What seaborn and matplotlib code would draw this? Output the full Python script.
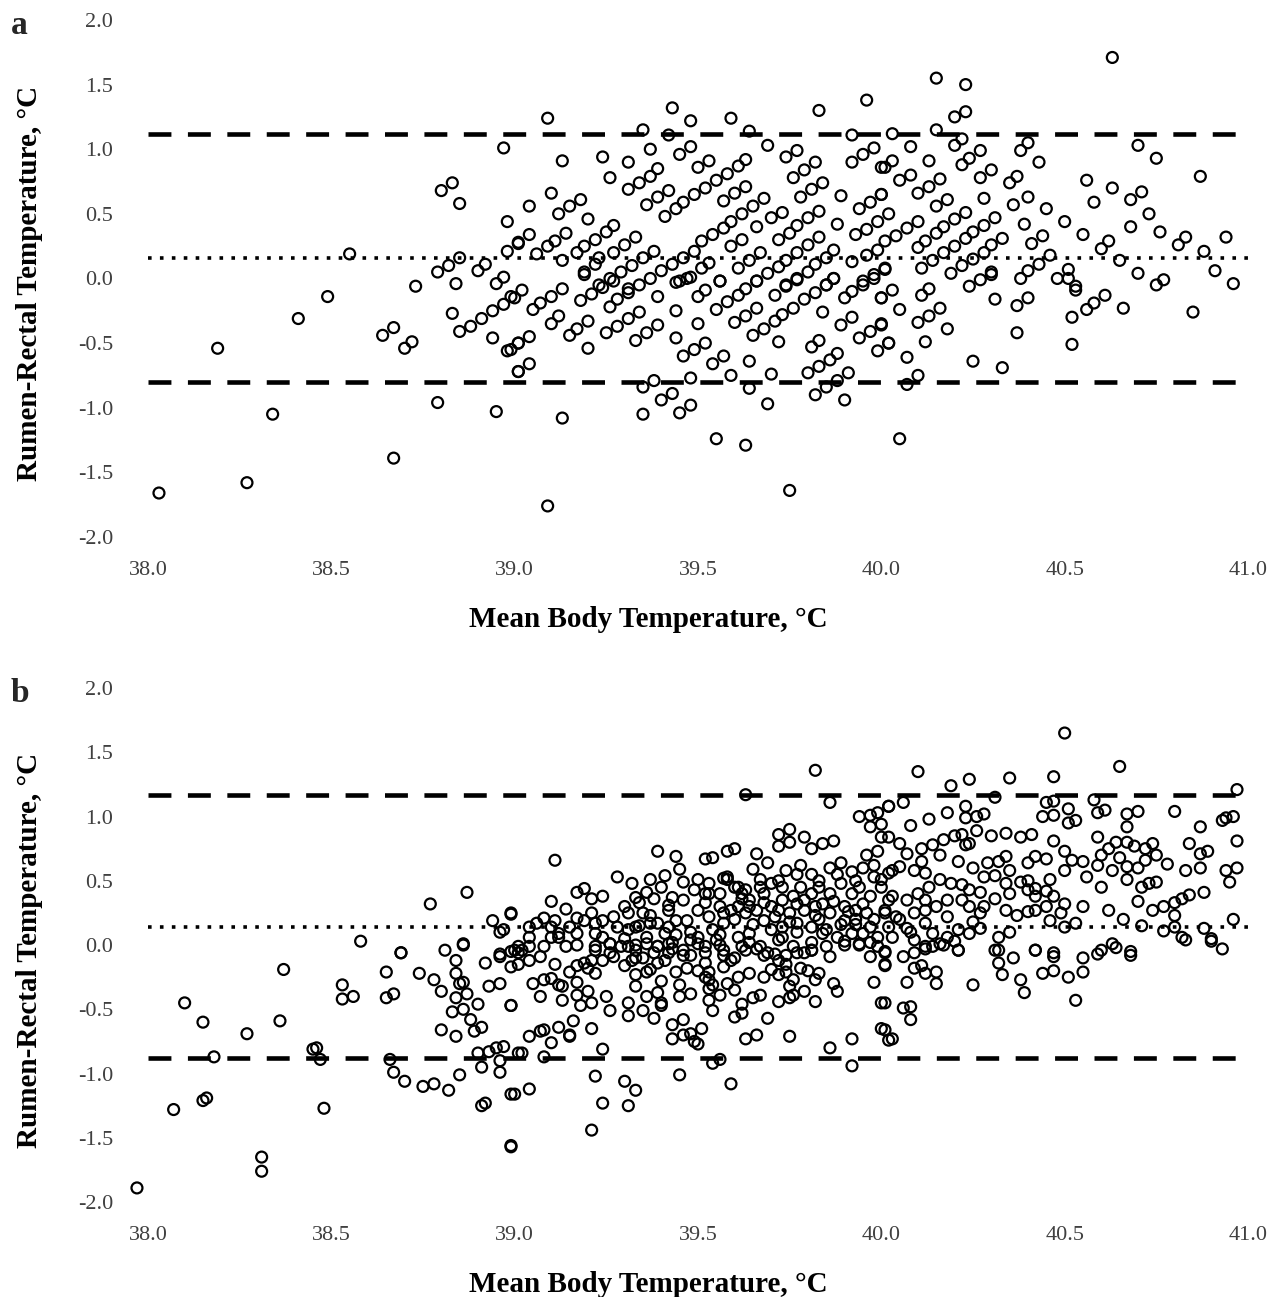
import matplotlib
matplotlib.use("Agg")
import matplotlib.pyplot as plt
import seaborn as sns
import pandas as pd
from matplotlib.ticker import FormatStrFormatter

sns.set_theme(style="white")
plt.rcParams["font.family"] = ["Liberation Serif", "DejaVu Serif"]
plt.rcParams["axes.unicode_minus"] = False

# ---- Panel a: mean body temperature vs rumen-rectal difference (°C) ----
a_mean = [
    38.03, 38.19, 38.27, 38.34, 38.41, 38.49, 38.55, 38.64, 38.67, 38.70, 38.72, 38.67, 38.73, 38.79,
    38.83, 38.84, 38.85, 38.88, 38.91, 38.94, 38.97, 39.00, 38.94, 38.98, 39.01, 39.01, 38.95, 38.97,
    38.80, 38.83, 38.85, 38.98, 39.01, 38.85, 38.82, 38.79, 38.92, 38.90, 38.98, 38.97, 38.95,
    39.09, 39.43, 39.48, 39.59, 39.35, 39.42, 39.64, 39.83, 39.96, 39.92, 39.69, 39.13, 39.24, 39.26,
    39.31, 39.37, 39.45, 39.48, 39.50, 39.53, 39.31, 39.34, 39.37, 39.39, 39.36, 39.39, 39.42, 39.41,
    39.44, 39.46, 39.49, 39.52, 39.55, 39.58, 39.61, 39.63, 39.57, 39.60, 39.63, 39.51, 39.54, 39.57,
    39.59, 39.62, 39.65, 39.68, 39.59, 39.62, 39.66, 39.70, 39.73, 39.72, 39.75, 39.77, 39.80, 39.83,
    39.74, 39.77, 39.76, 39.79, 39.82, 39.78, 39.81, 39.84, 39.89, 39.88, 39.92, 39.95, 39.98, 39.94,
    39.97, 40.00, 40.00, 39.01, 39.04, 39.04, 39.10, 39.12, 39.15, 39.18, 39.20, 39.06, 39.09, 39.11,
    39.14, 39.13, 39.17, 39.19, 39.22, 39.25, 39.27, 39.19, 39.22, 39.23, 39.27, 39.30, 39.33, 39.23,
    39.26, 39.29, 39.32, 39.35, 39.38, 39.31, 39.40, 39.43, 39.46, 39.49, 39.45, 39.48, 39.51, 39.53,
    39.56, 39.61, 39.64, 39.67, 39.66, 39.69, 39.72, 39.74, 39.77, 39.80, 39.83, 39.74, 39.77, 39.80,
    39.82, 39.85, 39.87, 39.85, 39.87, 39.92, 39.96, 39.99, 39.93, 39.96, 39.99, 40.02, 39.95, 39.98,
    40.01,
    39.02, 38.99, 39.05, 39.07, 39.10, 39.13, 38.99, 39.01, 39.04, 39.01, 39.04, 39.10, 39.12, 39.15,
    39.17, 39.20, 39.20, 39.18, 39.21, 39.24, 39.27, 39.19, 39.26, 39.28, 39.31, 39.34, 39.37, 39.25,
    39.28, 39.31, 39.34, 39.33, 39.36, 39.39, 39.39, 39.44, 39.47, 39.44, 39.44, 39.50, 39.46, 39.49,
    39.52, 39.50, 39.52, 39.56, 39.55, 39.58, 39.61, 39.63, 39.66, 39.60, 39.63, 39.66, 39.54, 39.57,
    39.59, 39.64, 39.64, 39.35, 39.38, 39.40, 39.43, 39.35, 39.45, 39.48, 39.48, 39.13, 39.09, 39.55,
    39.63, 39.75, 39.69, 39.70, 39.65, 39.68, 39.71, 39.73, 39.76, 39.79, 39.82, 39.85, 39.87, 39.71,
    39.74, 39.77, 39.72, 39.81, 39.83, 39.80, 39.83, 39.86, 39.88, 39.82, 39.85, 39.88, 39.91, 39.90,
    39.84, 39.89, 39.92, 39.90, 39.92, 39.95, 39.98, 39.94, 39.97, 40.00, 39.99, 40.02, 40.00,
    40.63, 40.15, 40.23, 40.20, 40.23, 40.03, 40.15, 40.20, 40.22, 40.08, 40.01, 40.03, 40.13, 40.22,
    40.24, 40.27, 40.05, 40.08, 40.10, 40.13, 40.16, 40.27, 40.30, 40.38, 40.40, 40.43, 40.35, 40.37,
    40.00, 40.15, 40.18, 40.28, 40.36, 40.40, 40.70, 40.75, 40.87, 40.56, 40.63, 40.58, 40.68, 40.71,
    40.73, 40.45, 40.50, 40.39, 40.01, 40.04, 40.07, 40.10, 40.23, 40.20, 40.17, 40.15, 40.12, 40.10,
    40.31, 40.28, 40.25, 40.23, 40.20, 40.17, 40.14, 40.11, 40.33, 40.30, 40.28, 40.25, 40.22, 40.19,
    40.30, 40.27, 40.24, 40.01, 40.68, 40.76, 40.55, 40.44, 40.41, 40.46, 40.43, 40.40, 40.38, 40.51,
    40.48, 40.60, 40.62, 40.65, 40.70, 40.81, 40.83, 40.88, 40.94, 40.91, 40.96, 40.75, 40.77, 40.53,
    40.03, 40.00, 40.05, 40.00, 40.02, 40.07, 40.10, 40.07, 40.05, 40.11, 40.13, 40.10, 40.13, 40.16,
    40.18, 40.12, 40.30, 40.31, 40.25, 40.33, 40.37, 40.40, 40.37, 40.52, 40.56, 40.58, 40.61, 40.52,
    40.66, 40.85, 40.53, 40.51,
]
a_diff = [
    -1.66, -0.54, -1.58, -1.05, -0.31, -0.14, 0.19, -0.44, -0.38, -0.54, -0.49, -1.39, -0.06, -0.96,
    -0.27, -0.04, -0.41, -0.37, -0.31, -0.25, -0.20, -0.15, -0.46, -0.56, -0.50, -0.72, -1.03, 1.01,
    0.68, 0.74, 0.58, 0.44, 0.27, 0.16, 0.10, 0.05, 0.11, 0.06, 0.21, 0.01, -0.04,
    1.24, 1.32, 1.22, 1.24, 1.15, 1.11, 1.14, 1.30, 1.38, 1.11, 1.03, 0.91, 0.94, 0.78,
    0.90, 1.00, 0.96, 1.02, 0.86, 0.91, 0.69, 0.74, 0.79, 0.85, 0.57, 0.63, 0.68, 0.48,
    0.54, 0.59, 0.65, 0.70, 0.76, 0.81, 0.87, 0.92, 0.60, 0.66, 0.71, 0.29, 0.34, 0.39,
    0.44, 0.50, 0.56, 0.62, 0.25, 0.30, 0.40, 0.47, 0.51, 0.30, 0.35, 0.41, 0.47, 0.52,
    0.94, 0.99, 0.78, 0.84, 0.90, 0.63, 0.69, 0.74, 0.64, 0.42, 0.90, 0.96, 1.01, 0.54,
    0.59, 0.65, 0.86, 0.28, 0.34, 0.56, 0.66, 0.50, 0.56, 0.61, 0.46, 0.19, 0.25, 0.29,
    0.35, 0.14, 0.20, 0.25, 0.30, 0.36, 0.41, 0.05, 0.11, 0.16, 0.20, 0.26, 0.32, -0.05,
    0.00, 0.05, 0.10, 0.16, 0.21, -0.08, 0.06, 0.11, 0.16, 0.21, -0.02, 0.01, 0.08, 0.12,
    -0.02, 0.08, 0.14, 0.20, -0.02, 0.04, 0.09, 0.14, 0.20, 0.26, 0.32, -0.05, 0.00, 0.05,
    0.11, 0.16, 0.22, -0.05, 0.00, 0.13, 0.18, 0.22, 0.34, 0.38, 0.44, 0.50, -0.02, 0.03,
    0.08,
    -0.09, -0.14, -0.24, -0.19, -0.14, -0.08, -0.55, -0.50, -0.45, -0.72, -0.66, -0.35, -0.29, -0.44,
    -0.39, -0.33, -0.54, -0.17, -0.12, -0.07, -0.02, 0.03, -0.22, -0.16, -0.11, -0.05, 0.00, -0.42,
    -0.37, -0.31, -0.26, -0.48, -0.42, -0.36, -0.14, -0.03, 0.00, -0.25, -0.46, -0.35, -0.60, -0.55,
    -0.50, -0.14, -0.09, -0.02, -0.24, -0.18, -0.13, -0.08, -0.02, -0.34, -0.29, -0.23, -0.66, -0.60,
    -0.75, -0.85, -0.64, -0.84, -0.79, -0.94, -0.89, -1.05, -1.04, -0.98, -0.77, -1.08, -1.76, -1.24,
    -1.29, -1.64, -0.97, -0.74, -0.44, -0.39, -0.33, -0.28, -0.23, -0.16, -0.11, -0.05, 0.00, -0.13,
    -0.06, -0.01, -0.49, -0.53, -0.48, -0.73, -0.68, -0.63, -0.58, -0.90, -0.84, -0.79, -0.73, -0.94,
    -0.26, -0.36, -0.30, -0.15, -0.10, -0.05, 0.00, -0.46, -0.41, -0.36, -0.56, -0.50, -0.15,
    1.71, 1.55, 1.50, 1.25, 1.29, 1.12, 1.15, 1.03, 1.08, 1.02, 0.86, 0.91, 0.91, 0.88,
    0.93, 0.99, 0.76, 0.80, 0.66, 0.71, 0.77, 0.78, 0.84, 0.99, 1.05, 0.90, 0.74, 0.79,
    0.65, 0.56, 0.61, 0.62, 0.57, 0.63, 1.03, 0.93, 0.79, 0.76, 0.70, 0.59, 0.61, 0.67,
    0.50, 0.54, 0.44, 0.42, 0.29, 0.33, 0.39, 0.44, 0.51, 0.46, 0.40, 0.35, 0.29, 0.24,
    0.47, 0.41, 0.36, 0.31, 0.25, 0.20, 0.14, 0.08, 0.31, 0.26, 0.20, 0.15, 0.10, 0.04,
    0.05, -0.01, -0.06, 0.07, 0.40, 0.36, 0.34, 0.33, 0.27, 0.18, 0.11, 0.06, 0.00, 0.07,
    0.00, 0.23, 0.29, 0.14, 0.04, 0.26, 0.32, 0.21, 0.32, 0.06, -0.04, -0.05, -0.01, -0.06,
    -0.09, -0.15, -0.24, -0.35, -0.50, -0.61, -0.75, -0.82, -1.24, -0.13, -0.08, -0.34, -0.29, -0.23,
    -0.39, -0.49, 0.03, -0.16, -0.64, -0.69, -0.21, -0.15, -0.42, -0.30, -0.24, -0.19, -0.13, -0.51,
    -0.23, -0.26, -0.09, 0.00,
]
a_bias, a_upper, a_lower = 0.16, 1.12, -0.80

# ---- Panel b ----
b_mean = [
    38.87, 38.77, 38.99, 38.94, 38.96, 38.97, 38.58, 38.86, 38.81, 38.69, 38.96, 39.00,
    37.97, 38.10, 38.15, 38.07, 38.15, 38.16, 38.18, 38.27, 38.31, 38.31, 38.36, 38.37, 38.45, 38.46,
    38.47, 38.48, 38.53, 38.53, 38.56, 38.65, 38.65, 38.67, 38.69, 38.66, 38.67, 38.70, 38.74, 38.75,
    38.78, 38.78, 38.80, 38.80, 38.82, 38.84, 38.84, 38.85, 38.86, 38.84, 38.87, 38.83, 38.86, 38.90,
    38.88, 38.89, 38.91, 38.84, 38.86, 38.92, 38.96, 38.93, 38.96, 38.99, 38.90, 38.93, 38.95, 38.97,
    38.96, 38.85, 38.91, 38.96, 38.99, 38.91, 38.92, 38.99, 38.99, 39.01, 39.01,
    38.99, 39.00, 39.04, 39.02, 39.08, 39.21, 39.22, 39.24, 39.24, 39.30, 39.33, 39.31, 39.45, 39.54,
    39.56, 39.59, 39.86, 39.92, 39.92, 39.75, 39.63, 39.66, 39.69, 39.60, 39.62, 39.50, 39.49, 39.43,
    39.43, 39.46, 39.46, 39.48, 39.51, 39.04, 39.07, 39.08, 39.10, 39.12, 39.15, 39.15, 39.16, 39.21,
    38.99, 39.07, 39.05, 39.13, 39.17, 39.18, 39.21, 39.20, 39.25, 39.26, 39.31, 39.31, 39.36, 39.35,
    39.38, 39.39, 39.40, 39.40, 39.33, 39.33, 39.11, 39.15, 39.17, 39.20, 39.22, 39.08, 39.10, 39.12,
    39.13, 39.04, 39.07, 38.99, 39.01, 39.04, 39.22, 39.24, 39.27, 39.26, 39.17, 39.19, 39.21, 39.30,
    39.32, 39.35, 39.36, 39.37, 39.39, 39.41, 39.44, 39.45, 39.48, 39.47, 39.31, 39.33, 39.36, 39.39,
    39.42, 39.43, 39.46, 39.48, 39.52, 39.52, 39.53, 39.54, 39.53, 39.56, 39.54, 39.53, 39.53, 39.57,
    39.59, 39.57, 39.56, 39.61, 39.60, 39.62, 39.64, 39.66, 39.65, 39.67, 39.72, 39.75, 39.76, 39.79,
    39.82, 39.82, 39.83, 39.87, 39.88, 39.86, 39.68, 39.71, 39.72, 39.74, 39.77, 39.79, 39.81, 39.70,
    39.72, 39.74, 39.76, 39.78, 39.75, 39.90, 39.94, 39.97, 39.98, 40.01, 40.01, 40.00, 40.00, 40.02,
    40.01, 40.01, 40.06, 40.09, 40.11, 40.09, 40.12, 40.15, 40.15, 40.07, 40.01, 40.06, 40.08, 40.08,
    40.01, 40.03, 40.12, 40.14, 40.17, 40.21, 40.20, 40.25, 40.31, 40.32, 40.33, 40.36, 40.38, 40.39,
    40.42, 40.44, 40.47, 40.47, 40.51, 40.55, 40.55, 40.53, 40.59, 40.64, 40.68, 40.83, 40.90, 40.93,
    39.82, 39.63, 39.86, 39.11, 39.39, 39.44, 39.52, 39.54, 39.58, 39.60, 39.66, 39.69, 39.72, 39.75,
    39.72, 39.75, 39.79, 39.81, 39.84, 39.87, 39.94, 39.97, 39.99, 39.97, 40.00, 40.02, 40.00, 39.96,
    39.99, 40.02, 39.28, 39.32, 39.33, 39.36, 39.37, 39.41, 39.40, 39.45, 39.46, 39.43, 39.17, 39.19,
    39.21, 39.24, 39.10, 39.14, 38.99, 39.08, 39.17, 39.21, 39.27, 39.37, 39.42, 39.49, 39.52, 39.58,
    39.61, 39.65, 39.67, 39.62, 39.74, 39.78, 39.81, 39.86, 39.89, 39.92, 39.95, 39.98,
    39.04, 39.10, 39.12, 39.10, 39.14, 39.17, 39.22, 39.22, 39.26, 39.30, 39.31, 39.34, 39.37, 39.41,
    39.44, 39.48, 39.50, 39.54, 39.57, 39.59, 39.63, 39.65, 39.68, 39.72, 39.75, 39.79, 39.82, 39.86,
    39.90, 39.93, 39.97, 40.01, 40.02, 39.94, 39.99, 39.90, 39.85, 39.81, 39.76, 39.72, 39.67, 39.63,
    39.57, 39.52, 39.46, 39.39, 39.33, 39.26, 39.02, 39.01,
    39.50, 39.53, 39.56, 39.60, 39.63, 39.64, 39.68, 39.70, 39.73, 39.76, 39.78, 39.81, 39.83, 39.86,
    39.89, 39.92, 39.94, 39.97, 40.00, 39.90, 39.93, 39.96, 39.84, 39.82, 39.77, 39.73, 39.70, 39.66,
    39.61, 39.57, 39.53, 39.50, 39.47, 39.44, 39.42, 39.39, 39.35, 39.33, 39.31, 39.28, 39.24, 39.22,
    39.19, 39.15, 39.11, 39.06, 39.04, 39.08, 39.12, 39.17, 39.24, 39.29, 39.36, 39.42, 39.50, 39.55,
    39.61, 39.64, 39.70, 39.73, 39.77, 39.81, 39.84, 39.88, 39.92, 39.95, 39.99, 40.02, 39.57, 39.58,
    39.53,
    40.50, 40.65, 40.10, 40.19, 40.24, 40.35, 40.47, 40.31, 40.97, 40.02, 40.06, 40.23, 40.23, 40.26,
    40.28, 40.18, 40.13, 40.08, 40.26, 40.30, 40.34, 40.45, 40.47, 40.44, 40.47, 40.51, 40.51, 40.53,
    40.58, 40.59, 40.61, 40.67, 40.70, 40.67, 40.80, 40.87, 40.93, 40.94, 40.96, 40.97, 40.38, 40.41,
    40.47, 40.50, 40.52, 40.59, 40.62, 40.64, 40.67, 40.69, 40.72, 40.74, 40.75, 40.72, 40.78, 40.84,
    40.87, 40.89, 40.83, 40.87, 40.94, 40.97, 40.95, 40.88, 40.84, 40.82, 40.80, 40.77, 40.74, 40.70,
    40.71, 40.73, 40.75, 40.62, 40.66, 40.80, 40.80, 40.77, 40.82, 40.71, 40.88, 40.90, 40.96, 40.60,
    40.59, 40.56, 40.63, 40.67, 40.67, 40.55, 40.49, 40.46, 40.50, 40.53, 40.42, 40.47, 40.63, 40.60,
    40.68,
    40.05, 40.07, 40.11, 40.11, 40.14, 40.17, 40.20, 40.22, 40.23, 40.24, 40.16, 40.21, 40.25, 40.29,
    40.32, 40.34, 40.35, 40.34, 40.31, 40.28, 40.40, 40.42, 40.45, 40.46, 40.42, 40.40, 40.38, 40.42,
    40.03, 40.02, 40.00, 40.05, 40.09, 40.12, 40.16, 40.19, 40.22, 40.24, 40.27, 40.13, 40.10, 40.07,
    40.03, 40.01, 40.04, 40.09, 40.12, 40.15, 40.18, 40.22, 40.24, 40.27, 40.31, 40.34, 40.37, 40.40,
    40.42, 40.45, 40.47, 40.50, 40.12, 40.14, 40.18, 40.21, 40.24, 40.27, 40.32, 40.35, 40.03, 40.07,
    40.09, 40.12, 40.16, 40.21, 40.32,
    39.30, 39.34, 39.38, 39.42, 39.46, 39.52, 39.56, 39.60, 39.64, 39.68, 39.71, 39.75, 39.79, 39.83,
    39.87, 39.91, 39.95, 39.98, 39.33, 39.38, 39.43, 39.48, 39.52, 39.56, 39.60, 39.64, 39.69, 39.73,
    39.77, 39.81, 39.85, 39.89, 39.93, 39.97, 39.62, 39.67, 39.72, 39.77, 39.83, 39.88, 39.93, 39.98,
    39.40, 39.45, 39.50, 39.58, 39.62, 39.68, 39.74, 39.80, 40.05, 40.08, 40.12, 40.18, 40.25, 40.28,
    40.35, 40.40, 40.45, 40.50, 40.55, 40.60, 40.65, 40.70,
]
b_diff = [
    0.41, 0.32, 0.24, 0.19, 0.10, 0.12, 0.03, 0.01, -0.04, -0.06, -0.07, -0.04,
    -1.89, -0.45, -0.60, -1.28, -1.21, -1.19, -0.87, -0.69, -1.65, -1.76, -0.59, -0.19, -0.81, -0.80,
    -0.89, -1.27, -0.31, -0.42, -0.40, -0.21, -0.41, -0.38, -0.06, -0.89, -0.99, -1.06, -0.22, -1.10,
    -1.08, -0.27, -0.36, -0.66, -1.13, -0.12, -0.22, -0.30, -0.29, -0.41, -0.38, -0.52, -0.50, -0.46,
    -0.58, -0.67, -0.64, -0.71, -0.00, -0.14, -0.09, -0.32, -0.30, -0.47, -0.84, -0.83, -0.80, -0.79,
    -0.90, -1.01, -0.95, -0.99, -1.16, -1.25, -1.23, -1.57, -0.05, -0.15, -0.84,
    -1.56, -1.16, -1.12, -0.84, -0.87, -1.44, -1.02, -1.23, -0.81, -1.06, -1.13, -1.25, -1.01, -0.92,
    -0.89, -1.08, -0.80, -0.73, -0.94, -0.71, -0.73, -0.70, -0.57, -0.56, -0.53, -0.77, -0.75, -0.62,
    -0.73, -0.58, -0.70, -0.69, -0.65, -0.71, -0.67, -0.66, -0.76, -0.64, -0.71, -0.70, -0.59, -0.65,
    -0.47, -0.40, -0.30, -0.43, -0.39, -0.47, -0.45, -0.36, -0.40, -0.51, -0.45, -0.55, -0.40, -0.51,
    -0.57, -0.37, -0.45, -0.47, -0.32, -0.23, -0.15, -0.21, -0.29, -0.18, -0.22, -0.27, -0.26, -0.31,
    -0.32, -0.12, -0.09, -0.17, -0.06, -0.01, -0.04, -0.12, -0.09, 0.01, -0.16, -0.14, -0.12, -0.16,
    -0.12, -0.10, -0.21, -0.19, -0.14, -0.12, -0.21, -0.31, -0.38, -0.18, -0.01, 0.00, 0.01, -0.01,
    -0.06, -0.03, -0.08, -0.08, -0.14, -0.25, -0.21, -0.31, -0.43, -0.39, -0.51, -0.34, -0.27, -0.17,
    -0.12, -0.08, -0.00, -0.25, -0.35, -0.01, -0.22, -0.03, -0.41, -0.39, -0.44, -0.41, -0.39, -0.36,
    -0.44, -0.27, -0.22, -0.30, -0.36, -0.09, -0.08, -0.07, -0.12, -0.08, -0.06, -0.06, -0.04, -0.19,
    -0.23, -0.21, -0.27, -0.18, -0.32, 0.03, 0.00, -0.09, -0.29, -0.06, -0.15, -0.45, -0.65, -0.74,
    -0.05, -0.16, -0.09, -0.06, -0.16, -0.18, -0.22, -0.21, -0.30, -0.29, -0.45, -0.49, -0.48, -0.58,
    -0.66, -0.73, -0.03, -0.01, 0.00, -0.04, 0.03, -0.31, -0.04, -0.14, -0.23, -0.10, -0.27, -0.37,
    -0.04, -0.22, -0.20, -0.09, -0.25, -0.10, -0.21, -0.43, -0.07, -0.02, -0.08, 0.04, 0.03, -0.03,
    1.36, 1.17, 1.11, 0.66, 0.73, 0.69, 0.67, 0.68, 0.73, 0.75, 0.71, 0.64, 0.86, 0.90,
    0.77, 0.80, 0.84, 0.75, 0.79, 0.81, 1.00, 1.01, 1.03, 0.92, 0.94, 1.08, 0.84, 0.70,
    0.73, 0.84, 0.53, 0.48, 0.37, 0.41, 0.51, 0.54, 0.45, 0.59, 0.49, 0.37, 0.41, 0.44,
    0.36, 0.38, 0.34, 0.28, 0.25, 0.21, 0.21, 0.25, 0.22, 0.23, 0.27, 0.43, 0.40, 0.53,
    0.45, 0.59, 0.51, 0.36, 0.58, 0.62, 0.55, 0.60, 0.64, 0.57, 0.60, 0.53,
    0.14, 0.14, 0.06, 0.06, -0.01, 0.00, 0.09, -0.01, 0.01, 0.05, 0.12, 0.15, 0.17, 0.09,
    0.08, 0.04, 0.06, 0.12, 0.17, 0.27, 0.25, 0.16, 0.19, 0.27, 0.25, 0.27, 0.23, 0.25,
    0.19, 0.16, 0.14, 0.25, 0.35, 0.01, -0.01, 0.00, -0.01, -0.04, -0.01, 0.04, -0.01, -0.04,
    -0.04, -0.01, -0.04, -0.01, -0.04, -0.06, -0.04, -0.01,
    0.51, 0.48, 0.40, 0.45, 0.43, 0.35, 0.40, 0.48, 0.45, 0.38, 0.45, 0.40, 0.45, 0.40,
    0.48, 0.40, 0.45, 0.38, 0.45, 0.30, 0.27, 0.25, 0.32, 0.30, 0.32, 0.35, 0.30, 0.27,
    0.30, 0.25, 0.22, 0.27, 0.19, 0.19, 0.14, 0.17, 0.25, 0.14, 0.25, 0.14, 0.19, 0.17,
    0.19, 0.14, 0.19, 0.17, 0.06, -0.01, 0.09, 0.09, 0.06, -0.01, 0.06, 0.01, 0.01, 0.04,
    0.06, 0.09, 0.12, 0.14, 0.17, 0.14, 0.09, 0.06, 0.09, 0.09, 0.06, 0.14, 0.52, 0.51,
    0.40,
    1.65, 1.39, 1.35, 1.24, 1.29, 1.30, 1.31, 1.15, 1.21, 1.08, 1.11, 1.08, 0.99, 1.00,
    1.02, 1.03, 0.98, 0.93, 0.89, 0.85, 0.87, 1.11, 1.12, 1.00, 1.01, 1.06, 0.95, 0.97,
    1.13, 1.03, 1.05, 1.02, 1.04, 0.92, 1.04, 0.92, 0.97, 0.99, 1.00, 0.81, 0.84, 0.86,
    0.81, 0.73, 0.66, 0.84, 0.75, 0.80, 0.80, 0.77, 0.75, 0.79, 0.70, 0.66, 0.63, 0.79,
    0.71, 0.73, 0.58, 0.60, 0.58, 0.60, 0.49, 0.41, 0.39, 0.36, 0.33, 0.30, 0.27, 0.34,
    0.45, 0.48, 0.49, 0.27, 0.20, 0.23, 0.14, 0.11, 0.06, 0.15, 0.13, 0.05, 0.20, 0.45,
    0.62, 0.53, 0.58, 0.61, 0.51, 0.30, 0.25, 0.19, 0.14, 0.17, -0.04, -0.06, 0.01, -0.04,
    -0.05,
    0.79, 0.71, 0.75, 0.65, 0.78, 0.82, 0.85, 0.86, 0.78, 0.79, 0.70, 0.65, 0.60, 0.64,
    0.65, 0.69, 0.58, 0.48, 0.54, 0.53, 0.64, 0.69, 0.67, 0.51, 0.44, 0.43, 0.49, 0.38,
    0.58, 0.56, 0.51, 0.61, 0.58, 0.56, 0.51, 0.48, 0.47, 0.43, 0.41, 0.45, 0.40, 0.35,
    0.38, 0.27, 0.22, 0.25, 0.27, 0.30, 0.35, 0.35, 0.30, 0.25, 0.36, 0.27, 0.23, 0.26,
    0.27, 0.30, 0.38, 0.32, 0.17, 0.09, 0.06, 0.12, 0.09, 0.13, 0.06, 0.10, 0.06, 0.13,
    0.04, -0.01, 0.01, -0.04, -0.04,
    0.30, 0.33, 0.36, 0.31, 0.35, 0.33, 0.30, 0.20, 0.30, 0.33, 0.22, 0.18, 0.35, 0.20,
    0.34, 0.26, 0.32, 0.20, -0.10, -0.06, 0.02, 0.10, -0.06, 0.08, -0.10, 0.02, -0.06, 0.06,
    0.10, 0.02, 0.12, 0.16, 0.20, 0.02, 0.40, 0.45, 0.50, 0.55, 0.50, 0.55, 0.50, 0.62,
    -0.28, -0.40, -0.20, -0.30, -0.46, -0.25, -0.15, -0.20, 0.20, 0.10, 0.35, 0.22, 0.18, 0.30,
    0.40, 0.50, 0.42, 0.58, 0.65, 0.70, 0.68, 0.60,
]
b_bias, b_upper, b_lower = 0.14, 1.17, -0.88

panels = [
    ("a", a_mean, a_diff, a_bias, a_upper, a_lower, [0.1156, 0.586, 0.8594, 0.3986]),
    ("b", b_mean, b_diff, b_bias, b_upper, b_lower, [0.1156, 0.0732, 0.8594, 0.3963]),
]

xticks = [38.0, 38.5, 39.0, 39.5, 40.0, 40.5, 41.0]
yticks = [-2.0, -1.5, -1.0, -0.5, 0.0, 0.5, 1.0, 1.5, 2.0]
tick_color = "#404040"

fig = plt.figure(figsize=(12.8, 12.97), dpi=100)
fig.patch.set_facecolor("white")

for letter, mean, diff, bias, upper, lower, rect in panels:
    ax = fig.add_axes(rect)
    df = pd.DataFrame({"mean": mean, "diff": diff})
    sns.scatterplot(data=df, x="mean", y="diff", ax=ax, marker="o", s=62,
                    linewidth=1.6, legend=False, zorder=3)
    pts = ax.collections[-1]
    pts.set_facecolor("none")
    pts.set_edgecolor("black")
    pts.set_clip_on(False)

    ax.axhline(upper, color="black", lw=3.3, linestyle=(0, (5, 3.6)), zorder=2)
    ax.axhline(lower, color="black", lw=3.3, linestyle=(0, (5, 3.6)), zorder=2)
    ax.axhline(bias, color="black", lw=2.6, linestyle=(0, (1, 2.3)), zorder=2)

    ax.set_xlim(38.0, 41.0)
    ax.set_ylim(-2.0, 2.0)
    ax.set_xticks(xticks)
    ax.set_yticks(yticks)
    ax.xaxis.set_major_formatter(FormatStrFormatter("%.1f"))
    ax.yaxis.set_major_formatter(FormatStrFormatter("%.1f"))
    ax.tick_params(axis="both", length=0, labelsize=16, colors=tick_color)
    ax.tick_params(axis="x", pad=17)
    ax.tick_params(axis="y", pad=25)
    for side in ("top", "right", "left", "bottom"):
        ax.spines[side].set_visible(False)
    ax.grid(False)
    ax.set_facecolor("white")

    ax.set_xlabel("Mean Body Temperature, °C", fontsize=21, fontweight="bold",
                  color="black")
    ax.xaxis.set_label_coords(0.455, -0.134)
    ax.set_ylabel("Rumen-Rectal Temperature, °C", fontsize=21, fontweight="bold",
                  color="black")
    ax.yaxis.set_label_coords(-0.095, 0.49)
    ax.text(-0.125, 0.99, letter, transform=ax.transAxes, fontsize=24,
            fontweight="bold", ha="left", va="center")

fig.savefig("out.png", dpi=100, facecolor="white")
